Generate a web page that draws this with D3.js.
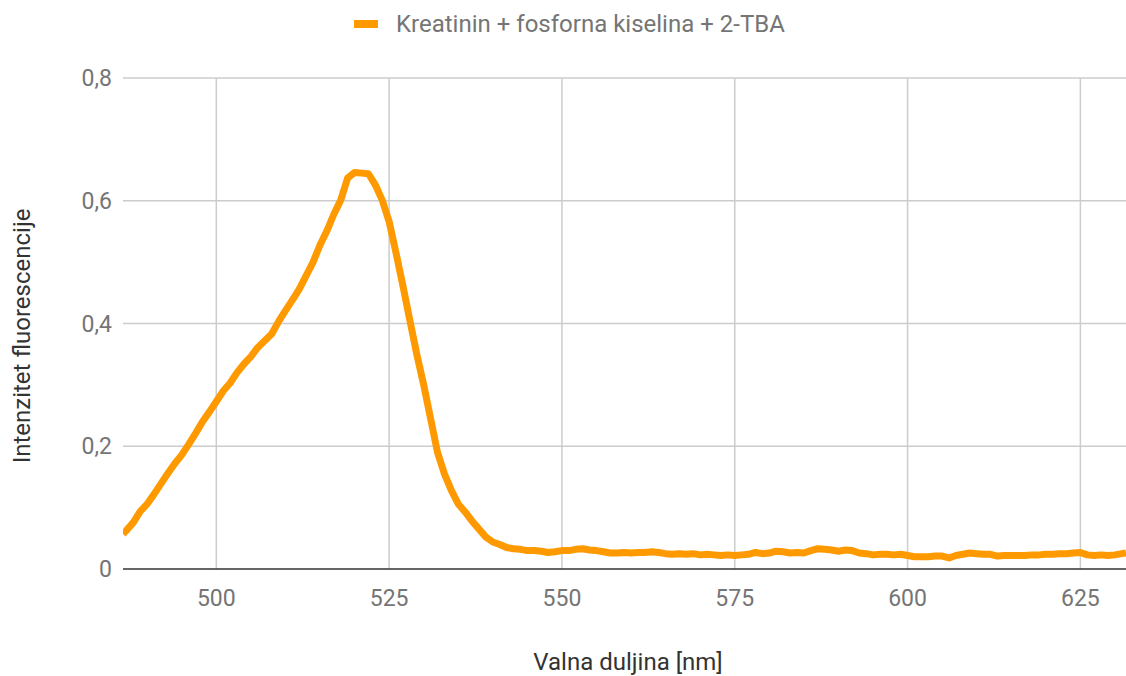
<!DOCTYPE html>
<html>
<head>
<meta charset="utf-8">
<script src="https://cdn.jsdelivr.net/npm/d3@7"></script>
<style>
  body { margin: 0; background: #fff; }
  text { font-family: Roboto, "Noto Sans", sans-serif; }
</style>
</head>
<body>
<div id="container" style="width:1126px;height:676px"></div>
<script>
var seriesName = "Kreatinin + fosforna kiselina + 2-TBA";
var xTicks = [500, 525, 550, 575, 600, 625];
var yTicks = [0, 0.2, 0.4, 0.6, 0.8];
var wavelength = [486.5].concat(d3.range(487, 632), [631.6]);
var intensity = [
  0.057,
  0.063, 0.076, 0.094, 0.106, 0.122, 0.139, 0.156, 0.172, 0.186, 0.203,
  0.221, 0.240, 0.256, 0.273, 0.290, 0.303, 0.320, 0.334, 0.346, 0.361,
  0.372, 0.383, 0.403, 0.421, 0.438, 0.456, 0.478, 0.500, 0.528, 0.551,
  0.578, 0.601, 0.637, 0.646, 0.645, 0.644, 0.626, 0.601, 0.566, 0.515,
  0.461, 0.405, 0.350, 0.300, 0.245, 0.190, 0.155, 0.128, 0.106, 0.093,
  0.078, 0.065, 0.052, 0.044, 0.040, 0.035, 0.033, 0.032, 0.030, 0.030,
  0.029, 0.027, 0.028, 0.030, 0.030, 0.032, 0.033, 0.031, 0.030, 0.028,
  0.026, 0.026, 0.027, 0.026, 0.027, 0.027, 0.028, 0.027, 0.025, 0.024,
  0.025, 0.024, 0.025, 0.023, 0.024, 0.023, 0.022, 0.023, 0.022, 0.023,
  0.024, 0.027, 0.025, 0.026, 0.029, 0.028, 0.026, 0.027, 0.026, 0.030,
  0.033, 0.032, 0.031, 0.029, 0.031, 0.030, 0.026, 0.025, 0.023, 0.024,
  0.024, 0.023, 0.024, 0.022, 0.020, 0.020, 0.020, 0.021, 0.021, 0.018,
  0.022, 0.024, 0.026, 0.025, 0.024, 0.024, 0.021, 0.022, 0.022, 0.022,
  0.022, 0.023, 0.023, 0.024, 0.024, 0.025, 0.025, 0.026, 0.027, 0.023,
  0.022, 0.023, 0.022, 0.023, 0.025, 0.026
];

var data = wavelength.map(function (w, i) {
  return { x: w, y: intensity[i] };
});

var W = 1126, H = 676;
var plot = { left: 123, right: 1126, top: 78, bottom: 569 };
var color = "#ff9900";
var fmt = d3.formatLocale({ decimal: ",", thousands: "." }).format("~g");

var svg = d3.select("#container").append("svg")
  .attr("width", W).attr("height", H);

var x = d3.scaleLinear().domain([486.5, 631.6]).range([plot.left, plot.right]);
var y = d3.scaleLinear().domain([0, 0.8]).range([plot.bottom, plot.top]);

// grid
svg.append("g").selectAll("line.h")
  .data(yTicks.filter(function (d) { return d > 0; }))
  .enter().append("line")
  .attr("x1", plot.left).attr("x2", plot.right)
  .attr("y1", function (d) { return y(d); }).attr("y2", function (d) { return y(d); })
  .style("stroke", "#cccccc").style("stroke-width", 1.5);

svg.append("g").selectAll("line.v")
  .data(xTicks)
  .enter().append("line")
  .attr("y1", plot.top).attr("y2", plot.bottom)
  .attr("x1", function (d) { return x(d); }).attr("x2", function (d) { return x(d); })
  .style("stroke", "#cccccc").style("stroke-width", 1.5);

// baseline
svg.append("line")
  .attr("x1", plot.left).attr("x2", plot.right)
  .attr("y1", y(0)).attr("y2", y(0))
  .style("stroke", "#333333").style("stroke-width", 1.5);

// tick labels
svg.append("g").selectAll("text")
  .data(yTicks).enter().append("text")
  .attr("x", 112).attr("y", function (d) { return y(d); })
  .attr("dy", "0.35em")
  .style("text-anchor", "end").style("font-size", "23px").style("fill", "#757575")
  .text(function (d) { return fmt(d); });

svg.append("g").selectAll("text")
  .data(xTicks).enter().append("text")
  .attr("x", function (d) { return x(d); }).attr("y", 606)
  .style("text-anchor", "middle").style("font-size", "23px").style("fill", "#757575")
  .text(function (d) { return d; });

// line
var line = d3.line()
  .x(function (d) { return x(d.x); })
  .y(function (d) { return y(d.y); });

svg.append("defs").append("clipPath").attr("id", "clip")
  .append("rect").attr("x", plot.left).attr("y", 0)
  .attr("width", plot.right - plot.left).attr("height", H);

svg.append("path")
  .datum(data)
  .attr("clip-path", "url(#clip)")
  .attr("d", line)
  .style("fill", "none").style("stroke", color)
  .style("stroke-width", 7).style("stroke-linejoin", "round");

// axis titles
svg.append("text")
  .attr("x", 628).attr("y", 670)
  .style("text-anchor", "middle").style("font-size", "24px").style("fill", "#333333")
  .text("Valna duljina [nm]");

svg.append("text")
  .attr("transform", "translate(30,336) rotate(-90)")
  .style("text-anchor", "middle").style("font-size", "24px").style("fill", "#333333")
  .text("Intenzitet fluorescencije");

// legend
svg.append("rect")
  .attr("x", 354).attr("y", 20).attr("width", 24).attr("height", 8)
  .style("fill", color);
svg.append("text")
  .attr("x", 396).attr("y", 32)
  .style("font-size", "24px").style("fill", "#757575")
  .text(seriesName);
</script>
</body>
</html>
